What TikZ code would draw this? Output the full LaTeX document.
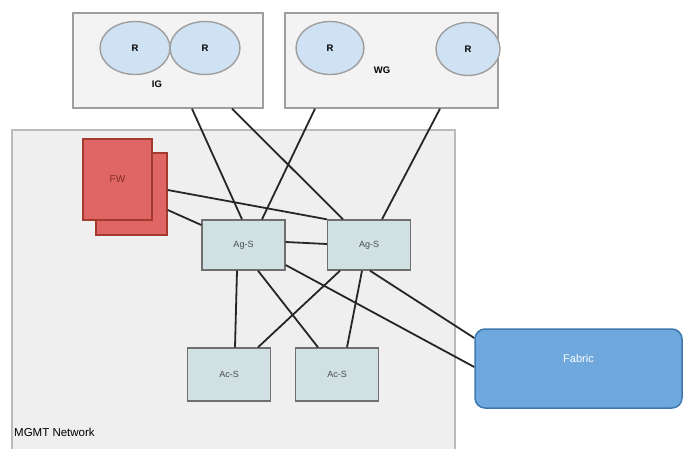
\documentclass[tikz,border=0pt]{standalone}
\usepackage{fontspec}
\setmainfont{Liberation Sans}
\usetikzlibrary{shapes.geometric}

\definecolor{boxgrey}{HTML}{F3F3F3}
\definecolor{netgrey}{HTML}{EFEFEF}
\definecolor{edgegrey}{HTML}{9E9E9E}
\definecolor{routerblue}{HTML}{CFE2F3}
\definecolor{switchblue}{HTML}{D0E0E3}
\definecolor{fwred}{HTML}{E06666}
\definecolor{fwedge}{HTML}{A33A2E}
\definecolor{fabblue}{HTML}{6FA8DC}
\definecolor{fabedge}{HTML}{3D78B0}

\begin{document}
\begin{tikzpicture}[x=1pt,y=-1pt,
    every node/.style={inner sep=0pt, font=\fontsize{9}{10}\selectfont},
    group/.style={draw=edgegrey, fill=boxgrey, line width=1.4pt},
    router/.style={ellipse, draw=edgegrey, fill=routerblue, line width=1.4pt, font=\fontsize{9.5}{10}\selectfont\bfseries},
    switch/.style={draw=edgegrey!70!black, fill=switchblue, line width=1.4pt, minimum width=83pt, text=black!70},
    firewall/.style={draw=fwedge, fill=fwred, line width=1.4pt, text=fwedge!80!black},
    link/.style={line width=1.8pt, black!85}]
        \useasboundingbox (0,0) rectangle (688,448);
        \fill[white] (0,0) rectangle (688,448);

        % management network
        \node[draw=edgegrey!70, fill=netgrey, line width=1.4pt, minimum width=443pt, minimum height=330pt] (mgmt) at (233.5,295) {};
        \node[anchor=west, font=\fontsize{11.5}{12}\selectfont] (mgmtlbl) at (14,432) {MGMT Network};

        % gateways
        \node[group, minimum width=190pt, minimum height=95pt] (ig) at (168,60.5) {};
        \node[group, minimum width=213pt, minimum height=95pt] (wg) at (391.5,60.5) {};
        \node[router, minimum width=70pt, minimum height=53pt] (r1) at (135,48) {R};
        \node[router, minimum width=70pt, minimum height=53pt] (r2) at (205,48) {R};
        \node[router, minimum width=68pt, minimum height=53pt] (r3) at (330,48) {R};
        \node[router, minimum width=64pt, minimum height=53pt] (r4) at (468,49) {R};
        \node[font=\fontsize{9.5}{10}\selectfont\bfseries] (iglbl) at (157,84) {IG};
        \node[font=\fontsize{9.5}{10}\selectfont\bfseries] (wglbl) at (382,70) {WG};

        % firewall
        \node[firewall, minimum width=71pt, minimum height=82pt] (fwb) at (131.5,194) {};
        \node[firewall, minimum width=69pt, minimum height=81pt, font=\fontsize{10}{11}\selectfont] (fw) at (117.5,179.5) {FW};

        % switches
        \node[switch, minimum height=50pt] (ag1) at (243.5,245) {Ag-S};
        \node[switch, minimum height=50pt] (ag2) at (369,245) {Ag-S};
        \node[switch, minimum height=53pt] (ac1) at (229,374.5) {Ac-S};
        \node[switch, minimum height=53pt] (ac2) at (337,374.5) {Ac-S};

        % fabric
        \node[draw=fabedge, fill=fabblue, line width=1.5pt, rounded corners=10pt,
              minimum width=207pt, minimum height=79pt, text=white,
              font=\fontsize{11}{12}\selectfont, text height=8pt, text depth=20pt] (fab) at (578.5,368.5) {Fabric};

        % links
        \draw[link] ([xshift=24]ig.south) -- ([xshift=-1.5]ag1.north);
        \draw[link] ([xshift=64]ig.south) -- ([xshift=-26]ag2.north);
        \draw[link] ([xshift=-76.5]wg.south) -- ([xshift=18.5]ag1.north);
        \draw[link] ([xshift=48.5]wg.south) -- ([xshift=13]ag2.north);
        \draw[link] ([yshift=4]fwb.east) -- (ag2.north west);
        \draw[link] ([yshift=-16]fwb.east) -- ([yshift=20]ag1.west);
        \draw[link] ([yshift=3]ag1.east) -- ([yshift=1]ag2.west);
        \draw[link] ([xshift=-6.5]ag1.south) -- ([xshift=6]ac1.north);
        \draw[link] ([xshift=14.5]ag1.south) -- ([xshift=-19]ac2.north);
        \draw[link] ([xshift=-29]ag2.south) -- ([xshift=29]ac1.north);
        \draw[link] ([xshift=-7]ag2.south) -- ([xshift=10]ac2.north);
        \draw[link] ([yshift=-20]ag1.east) -- ([yshift=1.5]fab.west);
        \draw[link] ([xshift=1]ag2.south) -- ([yshift=30.5]fab.west);
    \end{tikzpicture}
\end{document}
